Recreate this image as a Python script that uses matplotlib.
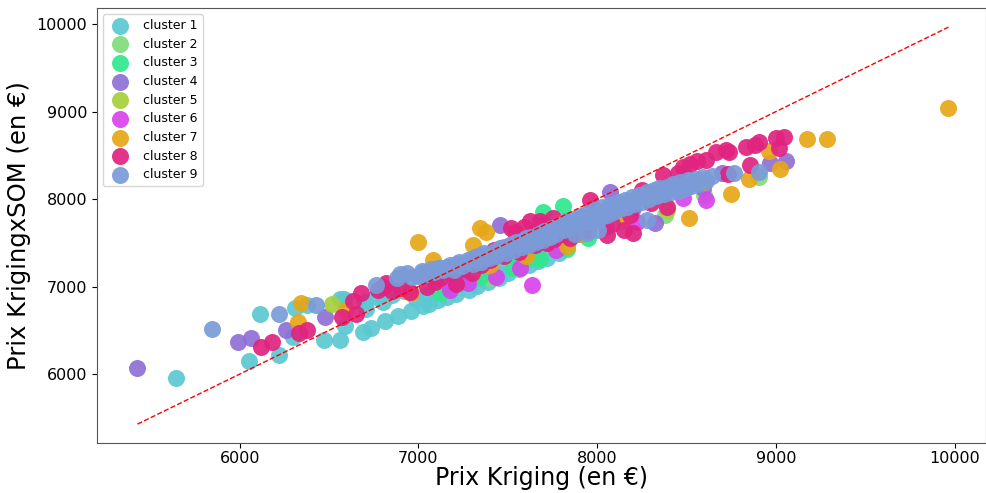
import matplotlib
matplotlib.use("Agg")
import matplotlib.pyplot as plt

# prix estimes (kriging seul, kriging x SOM) pour chaque cluster
c1_x = [5645, 6054, 6218, 6114, 6298, 6309, 6374, 6472, 6561, 6584, 6589, 6690, 6737, 6811, 6886,
        6960, 6709, 6802, 6988, 7026, 6561, 6700, 6760, 6850, 6920, 7060, 7112, 7160, 7210, 7280,
        7330, 7390, 7448, 7500, 7560, 7616, 7670, 7720, 7784, 7150, 7250, 7350, 7450, 7550, 7650,
        7040, 7190, 7310, 7420, 7590, 7740]
c1_y = [5960, 6145, 6214, 6686, 6426, 6758, 6789, 6389, 6389, 6857, 6549, 6481, 6530, 6606, 6663,
        6720, 6743, 6820, 6857, 6777, 6853, 6820, 6880, 6900, 6950, 6800, 6846, 6880, 6915, 6960,
        7010, 7050, 7097, 7150, 7200, 7246, 7290, 7330, 7383, 6980, 7060, 7120, 7220, 7300, 7380,
        6900, 6990, 7090, 7180, 7330, 7440]

c2_x = [7400, 7750, 8150, 8380, 8600, 8903]
c2_y = [7100, 7450, 7750, 7817, 8050, 8255]

c3_x = [7119, 7250, 7343, 7530, 7679, 7829, 7698, 7810, 7600, 7950]
c3_y = [6922, 7074, 7112, 7208, 7320, 7434, 7856, 7921, 7300, 7550]

c4_x = [5428, 5990, 6062, 6257, 6475, 7455, 8969, 9057, 8322, 8593, 8074, 7200, 7600, 7900, 8200,
        8500, 8700]
c4_y = [6072, 6362, 6408, 6500, 6648, 7703, 8411, 8438, 7722, 8122, 8083, 7050, 7400, 7700, 7900,
        8150, 8300]

c5_x = [6517, 7300, 8390]
c5_y = [6797, 7150, 7880]

c6_x = [7633, 8607, 7175, 7278, 7436, 7567, 7772, 8220, 8481, 7900, 8050]
c6_y = [7017, 7989, 6960, 7037, 7112, 7208, 7417, 7741, 8008, 7600, 7680]

c7_x = [6328, 6343, 6592, 6920, 6960, 7000, 7080, 7343, 7380, 7306, 7399, 7829, 7150, 7600, 7900,
        8150, 8300, 8600, 8514, 8751, 8960, 9024, 8847, 9173, 9285, 9965]
c7_y = [6594, 6815, 6732, 6960, 6922, 7510, 7303, 7666, 7628, 7474, 7246, 7463, 7150, 7350, 7600,
        7800, 8050, 8200, 7787, 8053, 8552, 8343, 8235, 8681, 8681, 9040]

c8_x = [6118, 6181, 6332, 6374, 6573, 6651, 6634, 6679, 6772, 6800, 6850, 6900, 6950, 6821, 7091,
        7212, 7050, 7120, 7180, 7250, 7300, 7350, 7400, 7420, 7480, 7517, 7560, 7623, 7679, 7650,
        7720, 7753, 7760, 7800, 7850, 7958, 7950, 8053, 8080, 8186, 8202, 8150, 8250, 8300, 8389,
        8366, 8478, 8450, 8520, 8560, 8610, 8666, 8722, 8733, 8739, 8832, 8856, 8880, 8907, 9001,
        9016, 9047, 7540, 7590, 7700]
c8_y = [6309, 6366, 6472, 6503, 6655, 6686, 6838, 6922, 6960, 6990, 6950, 6980, 6940, 7037, 7048,
        7029, 7000, 7100, 7150, 7200, 7150, 7250, 7300, 7420, 7350, 7665, 7400, 7749, 7749, 7480,
        7500, 7780, 7540, 7600, 7550, 7989, 7650, 7589, 7720, 7817, 7608, 7650, 8100, 7950, 7912,
        8274, 8370, 8300, 8400, 8440, 8446, 8541, 8560, 8284, 8540, 8595, 8395, 8620, 8653, 8700,
        8583, 8712, 7620, 7680, 7720]

c9_x = [5845, 6218, 6428, 6761, 6895, 6998, 6880, 6935, 6962, 7018, 7033, 7071, 7088, 7126, 7139,
        7177, 7196, 7228, 7241, 7279, 7305, 7318, 7352, 7381, 7394, 7427, 7436, 7468, 7487, 7512,
        7534, 7546, 7578, 7589, 7617, 7628, 7656, 7672, 7694, 7703, 7736, 7748, 7772, 7795, 7812,
        7827, 7856, 7864, 7893, 7908, 7936, 7947, 7973, 7988, 8016, 8024, 8057, 8073, 8088, 8114,
        8128, 8157, 8166, 8194, 8207, 8233, 8248, 8276, 8287, 8315, 8328, 8347, 8376, 8388, 8413,
        8426, 8457, 8464, 8496, 8508, 8527, 8553, 8566, 8594, 8608, 8641, 7940, 8004, 7876, 8276,
        8766, 8903, 7023, 7108, 7214, 7296, 7366, 7455, 7524, 7603, 7684, 7761, 7843, 7921, 7998,
        8062, 8143, 8219, 8302, 8395, 8478, 8562, 7160, 7335, 7480, 7655, 7810, 7965, 8105, 8260]
c9_y = [6515, 6686, 6789, 7017, 7143, 7120, 7094, 7156, 7112, 7178, 7129, 7206, 7163, 7214, 7188,
        7247, 7193, 7276, 7236, 7301, 7258, 7338, 7284, 7366, 7329, 7408, 7347, 7437, 7385, 7473,
        7418, 7504, 7452, 7538, 7476, 7566, 7513, 7602, 7537, 7637, 7571, 7664, 7596, 7706, 7642,
        7748, 7676, 7774, 7712, 7806, 7737, 7838, 7763, 7873, 7786, 7906, 7818, 7936, 7853, 7967,
        7884, 7994, 7907, 8026, 7944, 8052, 7968, 8086, 8003, 8104, 8031, 8126, 8058, 8143, 8084,
        8172, 8098, 8193, 8124, 8214, 8147, 8232, 8176, 8248, 8207, 8262, 7608, 7652, 7598, 7760,
        8300, 8304, 7154, 7208, 7262, 7318, 7380, 7437, 7484, 7556, 7612, 7671, 7735, 7792, 7846,
        7889, 7945, 7998, 8064, 8117, 8165, 8206, 7225, 7352, 7452, 7583, 7691, 7801, 7919, 8040]

xs = [c1_x, c2_x, c3_x, c4_x, c5_x, c6_x, c7_x, c8_x, c9_x]
ys = [c1_y, c2_y, c3_y, c4_y, c5_y, c6_y, c7_y, c8_y, c9_y]
labels = ["cluster %d" % (i + 1) for i in range(9)]
colors = ["#5bc8d2", "#80dc7c", "#30e88c", "#8f6fd6", "#a6d03c",
          "#d843ec", "#e6a617", "#e0237f", "#7b9bd8"]

fig = plt.figure(figsize=(9.87, 4.93), dpi=100)
ax = fig.add_axes([0.098, 0.101, 0.901, 0.883])

for x, y, lab, col in zip(xs, ys, labels, colors):
    ax.scatter(x, y, s=150, color=col, alpha=0.92, linewidths=0, label=lab)

# diagonale y = x sur l'etendue des prix kriging
all_x = [v for x in xs for v in x]
lo, hi = min(all_x), max(all_x)
ax.plot([lo, hi], [lo, hi], "r--", linewidth=1)

ax.set_xlim(5200, 10175)
ax.set_ylim(5210, 10185)
ax.set_xticks([6000, 7000, 8000, 9000, 10000])
ax.set_yticks([6000, 7000, 8000, 9000, 10000])
ax.tick_params(labelsize=11.5)
ax.tick_params(axis="x", pad=2)
for sp in ax.spines.values():
    sp.set_color("#555555")

ax.set_xlabel("Prix Kriging (en €)", fontsize=17, labelpad=0)
ax.set_ylabel("Prix KrigingxSOM (en €)", fontsize=17.5)
ax.legend(loc="upper left", fontsize=9, labelspacing=0.45)

fig.savefig("out.png", dpi=100)
